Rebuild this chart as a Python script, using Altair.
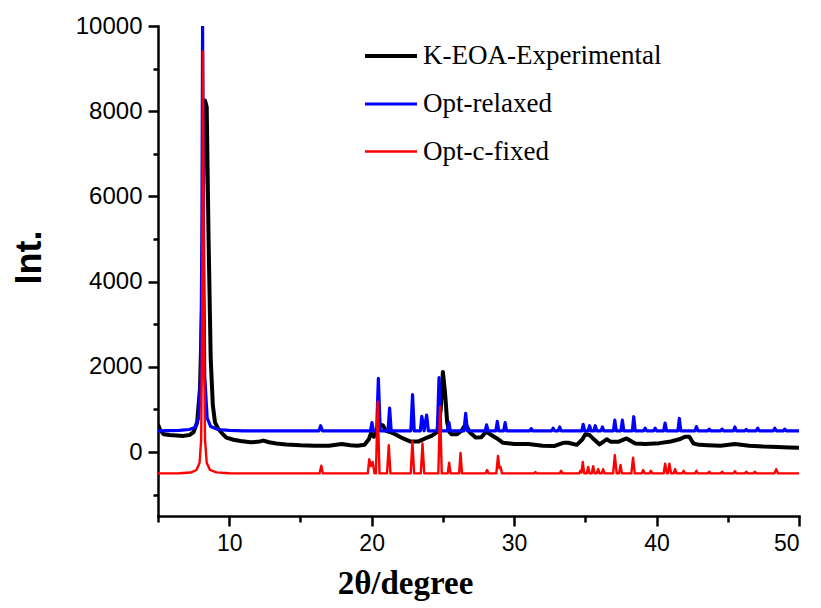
import altair as alt
import pandas as pd

SERIES = ["K-EOA-Experimental", "Opt-relaxed", "Opt-c-fixed"]
COLORS = ["#000000", "#0000FF", "#FF0000"]
WIDTHS = [4, 2.4, 2.4]

# K-EOA experimental pattern (2theta, intensity)
EXP = [
    (5.0, 650), (5.15, 520), (5.4, 420), (5.8, 400), (6.3, 390), (6.8, 380), (7.2, 400),
    (7.5, 470), (7.75, 700), (7.95, 1500), (8.1, 3500), (8.2, 7000), (8.3, 8250),
    (8.42, 8100), (8.55, 5000), (8.7, 2200), (8.85, 1100), (9.0, 700), (9.2, 560),
    (9.5, 440), (9.8, 340), (10.3, 290), (10.8, 260), (11.5, 230), (12.0, 240),
    (12.4, 270), (12.8, 230), (13.3, 200), (14.0, 180), (15.0, 160), (16.0, 150),
    (17.0, 150), (17.9, 190), (18.5, 160), (19.0, 150), (19.5, 170), (19.8, 300),
    (19.95, 440), (20.15, 360), (20.4, 560), (20.6, 650), (20.8, 620), (21.0, 500),
    (21.3, 470), (21.75, 400), (22.2, 320), (22.7, 250), (23.3, 250), (23.75, 320),
    (24.2, 380), (24.6, 470), (24.85, 1000), (25.0, 1880), (25.15, 1400), (25.3, 700),
    (25.45, 480), (25.6, 420), (26.0, 420), (26.3, 500), (26.6, 650), (26.9, 460),
    (27.3, 340), (27.7, 350), (28.05, 480), (28.4, 400), (28.8, 320), (29.2, 220),
    (30.0, 190), (31.0, 190), (32.0, 150), (32.8, 140), (33.5, 220), (33.8, 220),
    (34.4, 170), (34.8, 300), (35.0, 420), (35.3, 400), (35.6, 300), (36.0, 180),
    (36.5, 300), (36.8, 240), (37.3, 240), (37.9, 320), (38.5, 200), (39.2, 190),
    (40.2, 210), (41.0, 250), (41.6, 300), (42.0, 360), (42.3, 360), (42.6, 200),
    (43.0, 170), (43.6, 160), (44.5, 150), (45.5, 190), (46.5, 150), (47.5, 130),
    (48.5, 120), (49.3, 110), (50.0, 100),
]

# Simulated pattern, relaxed optimisation (offset +500)
RELAXED = [
    (5.0, 500), (6.5, 510), (7.2, 530), (7.6, 580), (7.85, 800), (8.0, 1800),
    (8.08, 5000), (8.13, 10000), (8.2, 5000), (8.28, 1800), (8.45, 800), (8.7, 600),
    (9.2, 530), (10.0, 510), (11.0, 500),
    (16.3, 500), (16.42, 620), (16.54, 500),
    (19.92, 500), (20.02, 690), (20.12, 500),
    (20.35, 500), (20.47, 1730), (20.6, 500),
    (21.15, 500), (21.26, 1030), (21.37, 500),
    (22.75, 500), (22.87, 1350), (22.99, 500),
    (23.42, 500), (23.52, 840), (23.68, 500), (23.86, 870), (23.98, 500),
    (24.61, 500), (24.73, 1750), (24.85, 500),
    (25.32, 500), (25.42, 700), (25.52, 500),
    (26.48, 500), (26.6, 910), (26.72, 500),
    (27.97, 500), (28.07, 640), (28.17, 500),
    (28.72, 500), (28.82, 720), (28.92, 500),
    (29.27, 500), (29.37, 690), (29.47, 500),
    (31.1, 500), (31.2, 550), (31.3, 500),
    (32.64, 500), (32.74, 560), (32.84, 500),
    (33.1, 500), (33.2, 590), (33.3, 500),
    (34.75, 500), (34.85, 650), (34.95, 500),
    (35.2, 500), (35.3, 620), (35.4, 500),
    (35.6, 500), (35.7, 620), (35.8, 500),
    (36.1, 500), (36.2, 590), (36.3, 500),
    (36.97, 500), (37.07, 750), (37.17, 500),
    (37.5, 500), (37.6, 750), (37.7, 500),
    (38.3, 500), (38.4, 830), (38.5, 500),
    (39.1, 500), (39.2, 560), (39.3, 500),
    (39.8, 500), (39.9, 560), (40.0, 500),
    (40.5, 500), (40.6, 680), (40.7, 500),
    (41.5, 500), (41.6, 790), (41.7, 500),
    (42.7, 500), (42.8, 600), (42.9, 500),
    (43.6, 500), (43.7, 540), (43.8, 500),
    (44.5, 500), (44.6, 540), (44.7, 500),
    (45.4, 500), (45.5, 590), (45.6, 500),
    (46.2, 500), (46.3, 530), (46.4, 500),
    (47.0, 500), (47.1, 560), (47.2, 500),
    (48.2, 500), (48.3, 560), (48.4, 500),
    (48.9, 500), (49.0, 540), (49.1, 500),
    (50.0, 500),
]

# Simulated pattern, c-axis fixed (offset -500)
CFIXED = [
    (5.0, -500), (6.5, -495), (7.3, -480), (7.7, -420), (7.92, -250), (8.03, 300),
    (8.1, 3000), (8.16, 9400), (8.22, 3000), (8.3, 300), (8.42, -250), (8.65, -420),
    (9.1, -475), (10.0, -495), (11.0, -500),
    (16.34, -500), (16.46, -320), (16.58, -500),
    (19.73, -500), (19.83, -170), (19.95, -330), (20.07, -230), (20.2, -500),
    (20.3, -500), (20.42, 1180), (20.55, -500),
    (21.08, -500), (21.2, 160), (21.32, -500),
    (22.74, -500), (22.86, 250), (22.98, -500),
    (23.45, -500), (23.57, 200), (23.69, -500),
    (24.68, -500), (24.8, 1060), (24.92, -500),
    (25.34, -500), (25.44, -250), (25.54, -500),
    (26.14, -500), (26.24, -20), (26.34, -500),
    (28.0, -500), (28.1, -420), (28.2, -500),
    (28.75, -500), (28.87, -90), (28.97, -380), (29.05, -350), (29.15, -500),
    (31.4, -500), (31.5, -470), (31.6, -500),
    (33.2, -500), (33.3, -440), (33.4, -500),
    (34.57, -500), (34.65, -440), (34.73, -480), (34.82, -230), (34.92, -500),
    (35.1, -500), (35.2, -350), (35.3, -500),
    (35.45, -500), (35.55, -330), (35.65, -500),
    (35.8, -500), (35.9, -400), (36.0, -500),
    (36.15, -500), (36.25, -400), (36.35, -500),
    (36.95, -500), (37.07, -70), (37.2, -500),
    (37.37, -500), (37.47, -300), (37.57, -500),
    (38.23, -500), (38.35, -130), (38.47, -500),
    (38.96, -500), (39.06, -420), (39.16, -500),
    (39.5, -500), (39.6, -440), (39.7, -500),
    (40.5, -500), (40.6, -270), (40.72, -500),
    (40.8, -500), (40.9, -270), (41.02, -500),
    (41.2, -500), (41.3, -400), (41.4, -500),
    (41.8, -500), (41.9, -440), (42.0, -500),
    (42.7, -500), (42.8, -440), (42.9, -500),
    (43.6, -500), (43.7, -460), (43.8, -500),
    (44.5, -500), (44.6, -460), (44.7, -500),
    (45.4, -500), (45.5, -450), (45.6, -500),
    (46.2, -500), (46.3, -460), (46.4, -500),
    (46.8, -500), (46.9, -460), (47.0, -500),
    (48.28, -500), (48.4, -400), (48.52, -500),
    (50.0, -500),
]

X_TICKS = [5, 10, 15, 20, 25, 30, 35, 40, 45, 50]
Y_TICKS = [-1000, 0, 1000, 2000, 3000, 4000, 5000, 6000, 7000, 8000, 9000, 10000]

rows = []
for name, pts in zip(SERIES, [EXP, RELAXED, CFIXED]):
    for i, (x, y) in enumerate(pts):
        rows.append({"series": name, "x": x, "y": y, "i": i})
df = pd.DataFrame(rows)

color = alt.Color(
    "series:N",
    scale=alt.Scale(domain=SERIES, range=COLORS),
    title=None,
    legend=alt.Legend(
        orient="none", legendX=205, legendY=2, symbolType="stroke",
        symbolSize=2700, symbolStrokeWidth=2.5, labelFont="Liberation Serif",
        labelFontSize=27, labelColor="#000", labelOffset=4, rowPadding=7,
        labelLimit=400,
    ),
)
sw = alt.StrokeWidth(
    "series:N", scale=alt.Scale(domain=SERIES, range=WIDTHS), title=None,
)

x_enc = alt.X(
    "x:Q", scale=alt.Scale(domain=[5, 50], nice=False, zero=False),
    axis=alt.Axis(
        values=X_TICKS, title="2θ/degree",
        labelExpr="datum.value % 10 === 0 ? datum.label : ''",
        tickSize={"condition": {"test": "datum.value % 10 === 0", "value": 10}, "value": 6},
        titleFont="Liberation Serif", titleFontSize=33, titleFontWeight="bold",
        titleX=247, titleY=77, titleBaseline="alphabetic", titleAnchor="middle",
        titleAlign="center",
    ),
)
y_enc = alt.Y(
    "y:Q", scale=alt.Scale(domain=[-1500, 10000], nice=False, zero=False),
    axis=alt.Axis(
        values=Y_TICKS, title="Int.",
        labelExpr="datum.value % 2000 === 0 && datum.value >= 0 ? datum.label : ''",
        format="d", labelFontSize=24,
        tickSize={"condition": {"test": "datum.value % 2000 === 0", "value": 10}, "value": 5},
        titleFont="Liberation Sans", titleFontSize=36, titleFontWeight="bold",
        titleX=-118, titleY=231, titleBaseline="alphabetic", titleAlign="center",
    ),
)

layers = []
for name in SERIES:
    layers.append(
        alt.Chart(df)
        .transform_filter(alt.datum.series == name)
        .mark_line(clip=True, strokeJoin="round")
        .encode(x=x_enc, y=y_enc, color=color, strokeWidth=sw, order="i:Q")
    )

chart = (
    alt.layer(*layers)
    .properties(
        width=641, height=490,
        padding={"left": 150, "top": 18, "right": 10, "bottom": 90},
        autosize=alt.AutoSizeParams(type="none"),
    )
    .configure_view(stroke=None)
    .configure_axis(
        domainColor="#000", domainWidth=2.5, tickColor="#000", tickWidth=2.5,
        labelFont="Liberation Sans", labelFontSize=23, labelColor="#000",
        labelPadding=6, grid=False, titleColor="#000",
    )
    .configure_axisY(domainCap="square")
    .configure_axisX(domainCap="square")
)

chart.save("out.html", embed_options={"renderer": "svg", "actions": False})
